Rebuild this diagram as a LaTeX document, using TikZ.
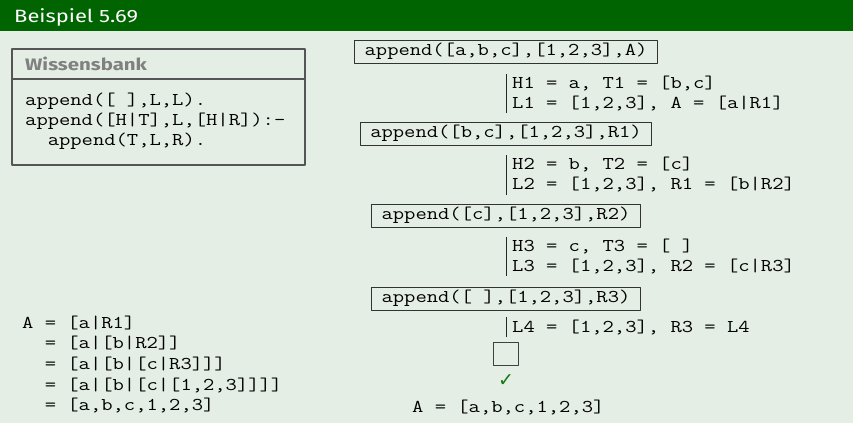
\documentclass[tikz,border=0pt]{standalone}
\usepackage{fontspec}
\setmonofont[FakeStretch=1.22]{Latin Modern Mono}
\setsansfont[FakeStretch=1.23]{Fira Sans}
\newfontfamily\symfont{DejaVu Sans}
\definecolor{bargreen}{RGB}{0,100,0}
\definecolor{bodybg}{RGB}{228,238,228}
\definecolor{kbgray}{RGB}{85,85,85}
\definecolor{checkgreen}{RGB}{20,120,20}
\begin{document}
\begin{tikzpicture}[x=1pt,y=-1pt,line join=round,
		code/.style={font=\ttfamily\fontsize{18}{20}\selectfont,inner sep=0pt,align=left},
		goal/.style={code,draw=black!80,line width=0.8pt,inner xsep=10pt,minimum height=23pt},
		unify/.style={code,anchor=west,inner xsep=6pt,inner ysep=2pt},
		bar/.style={line width=0.8pt,black!85}]
	\def\xmid{506}
	% background and title bar
	\fill [bodybg] (0,0) rectangle (853,423);
	\fill [bargreen] (0,0) rectangle (853,31);
	\node [anchor=base west,inner sep=0pt,text=white,font=\sffamily\fontsize{17.8}{20}\selectfont] (title) at (14,22) {Beispiel 5.69};
	% knowledge base
	\draw [kbgray,line width=1.2pt] (12,49) rectangle (305,165) (12,79)--(305,79);
	\node [anchor=base west,inner sep=0pt,text=black!50,font=\sffamily\bfseries\fontsize{16.6}{20}\selectfont] (kbhead) at (25,70) {Wissensbank};
	\node [code,anchor=west] (kbbody) at (25,121.5) {append([ ],L,L).\\append([H|T],L,[H|R]):-\\\ \ append(T,L,R).};
	% derivation
	\node [goal] (g1) at (\xmid,51.5) {append([a,b,c],[1,2,3],A)};
	\node [unify] (u1) at (\xmid,93.5) {H1 = a, T1 = [b,c]\\L1 = [1,2,3], A = [a|R1]};
	\node [goal] (g2) at (\xmid,133.5) {append([b,c],[1,2,3],R1)};
	\node [unify] (u2) at (\xmid,175) {H2 = b, T2 = [c]\\L2 = [1,2,3], R1 = [b|R2]};
	\node [goal] (g3) at (\xmid,215.5) {append([c],[1,2,3],R2)};
	\node [unify] (u3) at (\xmid,256.5) {H3 = c, T3 = [ ]\\L3 = [1,2,3], R2 = [c|R3]};
	\node [goal] (g4) at (\xmid,298.5) {append([ ],[1,2,3],R3)};
	\node [unify] (u4) at (\xmid,327) {L4 = [1,2,3], R3 = L4};
	\foreach \u in {u1,u2,u3,u4}
		\draw [bar] (\u.north west)--(\u.south west);
	\node [draw=black!75,line width=0.8pt,minimum width=25pt,minimum height=23pt,inner sep=0pt] (done) at (505.5,353.5) {};
	\node [inner sep=0pt,text=checkgreen,font=\symfont\fontsize{19}{20}\selectfont] (check) at (506,381) {✓};
	\node [code,anchor=west] (answer) at (412,407) {A = [a,b,c,1,2,3]};
	% result
	\node [code,anchor=west,font=\ttfamily\fontsize{18}{20.6}\selectfont] (result) at (22,364.5) {A = [a|R1]\\\ \ = [a|[b|R2]]\\\ \ = [a|[b|[c|R3]]]\\\ \ = [a|[b|[c|[1,2,3]]]]\\\ \ = [a,b,c,1,2,3]};
\end{tikzpicture}
\end{document}
